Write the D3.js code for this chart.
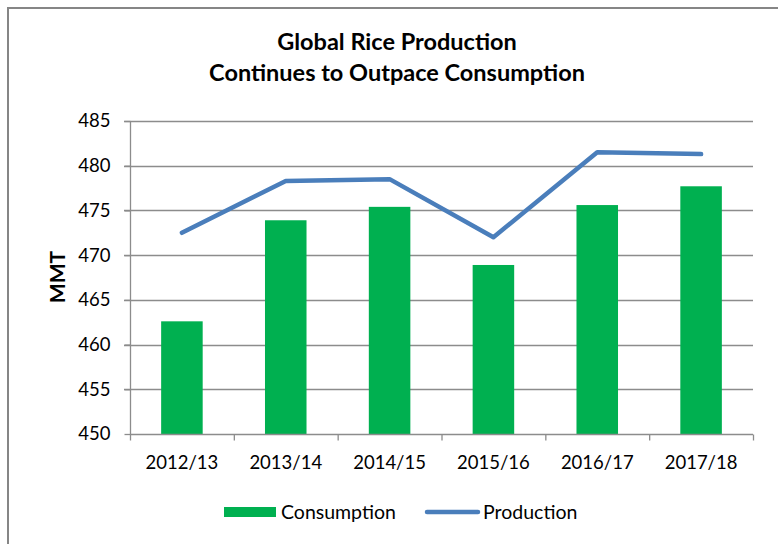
<!DOCTYPE html>
<html>
<head>
<meta charset="utf-8">
<script src="https://cdn.jsdelivr.net/npm/d3@7"></script>
<style>
  body { margin: 0; background: #fff; }
  text { font-family: Lato, "Open Sans", sans-serif; fill: #000; }
</style>
</head>
<body>
<script>
const categories = ["2012/13", "2013/14", "2014/15", "2015/16", "2016/17", "2017/18"];
const consumption = [462.6, 473.9, 475.4, 468.9, 475.6, 477.7];
const production = [472.5, 478.3, 478.5, 472.0, 481.5, 481.3];
const yTicks = [450, 455, 460, 465, 470, 475, 480, 485];

const width = 778, height = 544;
const margin = {top: 121, right: 25, bottom: 110, left: 130};

const svg = d3.select("body").append("svg")
    .attr("width", width)
    .attr("height", height);

// outer frame
svg.append("rect")
    .attr("x", 8).attr("y", 8)
    .attr("width", width + 10).attr("height", height + 10)
    .attr("fill", "none")
    .attr("stroke", "#868686")
    .attr("stroke-width", 2);

const x = d3.scaleBand()
    .domain(categories)
    .range([margin.left, width - margin.right])
    .paddingInner(0.6)
    .paddingOuter(0.3);

const xc = d3.scalePoint()
    .domain(categories)
    .range([margin.left, width - margin.right])
    .padding(0.5);

const y = d3.scaleLinear()
    .domain([450, 485])
    .range([434, margin.top]);

// gridlines
svg.append("g")
  .selectAll("line")
  .data(yTicks.slice(1))
  .join("line")
    .attr("x1", margin.left - 6)
    .attr("x2", width - margin.right)
    .attr("y1", d => Math.round(y(d)) + 0.5)
    .attr("y2", d => Math.round(y(d)) + 0.5)
    .attr("stroke", "#8c8c8c")
    .attr("stroke-width", 1.3);

// bars
svg.append("g")
  .selectAll("rect")
  .data(consumption)
  .join("rect")
    .attr("x", (d, i) => x(categories[i]))
    .attr("width", x.bandwidth())
    .attr("y", d => y(d))
    .attr("height", d => y(450) - y(d))
    .attr("fill", "#00b050");

// y axis
const yAxis = svg.append("g")
    .attr("transform", `translate(${margin.left + 0.5},0)`)
    .call(d3.axisLeft(y).tickValues(yTicks).tickSize(6).tickPadding(14));
yAxis.selectAll("line, path").attr("stroke", "#8c8c8c").attr("stroke-width", 1.3);
yAxis.select(".domain").attr("d", `M0,${y(485)}V${y(450)}`);
yAxis.selectAll("text").attr("font-size", 18.5).attr("font-family", "Lato, sans-serif").attr("fill", "#000");

// x axis
const bandStep = (width - margin.right - margin.left) / categories.length;
const xAxis = svg.append("g")
    .attr("transform", `translate(0,${Math.round(y(450)) + 0.5})`);
xAxis.append("line")
    .attr("x1", margin.left).attr("x2", width - margin.right)
    .attr("stroke", "#8c8c8c").attr("stroke-width", 1.3);
xAxis.selectAll(".tk")
  .data(d3.range(categories.length + 1))
  .join("line")
    .attr("class", "tk")
    .attr("x1", i => margin.left + i * bandStep + 0.5)
    .attr("x2", i => margin.left + i * bandStep + 0.5)
    .attr("y1", 0).attr("y2", 6)
    .attr("stroke", "#8c8c8c").attr("stroke-width", 1.3);
xAxis.selectAll(".lbl")
  .data(categories)
  .join("text")
    .attr("class", "lbl")
    .attr("x", d => xc(d))
    .attr("y", 34)
    .attr("text-anchor", "middle")
    .attr("font-size", 18.5)
    .text(d => d);

// production line
svg.append("path")
    .datum(production)
    .attr("fill", "none")
    .attr("stroke", "#4a7ebb")
    .attr("stroke-width", 4.5)
    .attr("stroke-linejoin", "round")
    .attr("stroke-linecap", "round")
    .attr("d", d3.line()
        .x((d, i) => xc(categories[i]))
        .y(d => y(d)));

// title
const title = svg.append("text")
    .attr("text-anchor", "middle")
    .attr("font-size", 23.5)
    .attr("font-weight", "bold");
title.append("tspan").attr("x", 397).attr("y", 50).text("Global Rice Production");
title.append("tspan").attr("x", 397).attr("y", 81).text("Continues to Outpace Consumption");

// y label
svg.append("text")
    .attr("transform", "translate(65,277) rotate(-90)")
    .attr("text-anchor", "middle")
    .attr("font-size", 21)
    .attr("font-weight", "bold")
    .text("MMT");

// legend
const legend = svg.append("g");
legend.append("rect")
    .attr("x", 224).attr("y", 507)
    .attr("width", 52).attr("height", 10)
    .attr("fill", "#00b050");
legend.append("text")
    .attr("x", 281).attr("y", 519)
    .attr("font-size", 19.5)
    .text("Consumption");
legend.append("line")
    .attr("x1", 427).attr("x2", 478)
    .attr("y1", 512).attr("y2", 512)
    .attr("stroke", "#4a7ebb")
    .attr("stroke-width", 4.5)
    .attr("stroke-linecap", "round");
legend.append("text")
    .attr("x", 483).attr("y", 519)
    .attr("font-size", 19.5)
    .text("Production");
</script>
</body>
</html>
